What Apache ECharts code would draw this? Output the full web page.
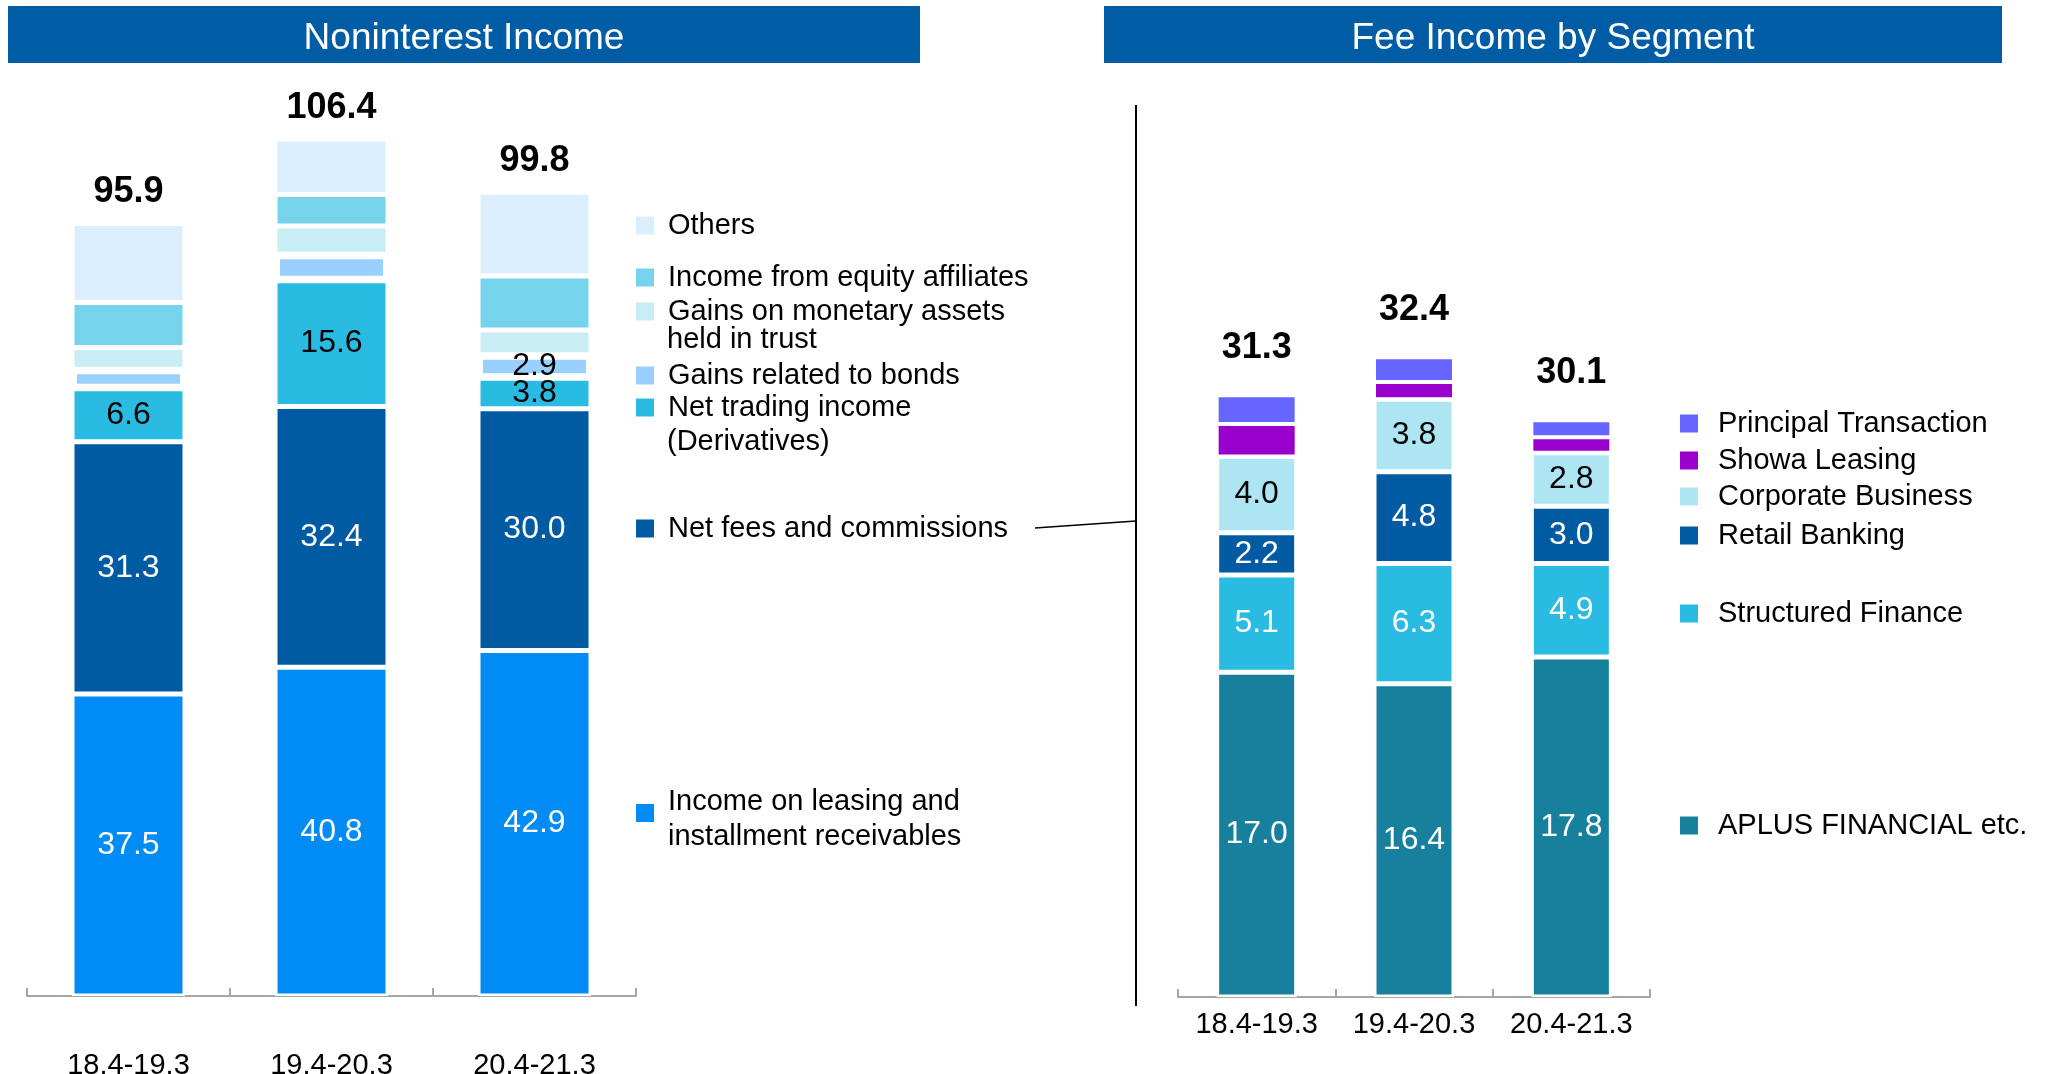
<!DOCTYPE html>
<html>
<head>
<meta charset="utf-8">
<title>Noninterest Income / Fee Income by Segment</title>
<script src="https://cdn.jsdelivr.net/npm/echarts@6/dist/echarts.min.js"></script>
<style>
  html, body { margin: 0; padding: 0; background: #fff; }
  #chart { width: 2052px; height: 1074px; }
</style>
</head>
<body>
<div id="chart"></div>
<script>
const categories = ['18.4-19.3', '19.4-20.3', '20.4-21.3'];

// Noninterest Income (bottom to top)
const leasing = [37.5, 40.8, 42.9];
const fees = [31.3, 32.4, 30.0];
const trading = [6.6, 15.6, 3.8];
const bonds = [2.4, 3.3, 2.9];
const monetary = [2.7, 3.5, 3.1];
const equity = [5.6, 3.9, 6.7];
const others = [9.8, 6.9, 10.4];
const nonintTotal = [95.9, 106.4, 99.8];
const bondsLabelShown = [false, false, true];

// Fee Income by Segment (bottom to top)
const aplus = [17.0, 16.4, 17.8];
const structured = [5.1, 6.3, 4.9];
const retail = [2.2, 4.8, 3.0];
const corporate = [4.0, 3.8, 2.8];
const showa = [1.7, 0.9, 0.8];
const principal = [1.5, 1.3, 0.9];
const feeTotal = [31.3, 32.4, 30.1];

const FONT = '"Liberation Sans", Arial, sans-serif';
const LEASING = 'Income on leasing and installment receivables';

const chart = echarts.init(document.getElementById('chart'));

function bar(name, data, color, axis, opts) {
  opts = opts || {};
  const labelShown = opts.labelShown || data.map(() => !!opts.labelColor);
  return {
    name: name,
    type: 'bar',
    stack: axis === 0 ? 'left' : 'right',
    xAxisIndex: axis,
    yAxisIndex: axis,
    barWidth: axis === 0 ? 113 : 80,
    itemStyle: {
      color: color,
      borderColor: '#fff',
      borderWidth: opts.borderWidth || 2.5
    },
    label: {
      show: true,
      position: 'inside',
      color: opts.labelColor || '#000',
      fontFamily: FONT,
      fontSize: 32,
      formatter: p => p.value.toFixed(1)
    },
    data: data.map((v, i) => ({
      value: v,
      label: { show: labelShown[i] }
    }))
  };
}

// topmost segment carries the bold total above the bar
function withTotal(series, totals, distance) {
  series.data = series.data.map(d => ({ value: d.value }));
  series.label = {
    show: true,
    position: 'top',
    distance: distance,
    color: '#000',
    fontFamily: FONT,
    fontSize: 36,
    fontWeight: 'bold',
    formatter: p => totals[p.dataIndex].toFixed(1)
  };
  return series;
}

function legend(name, left, top, gap) {
  return {
    data: [name],
    left: left,
    top: top,
    padding: 0,
    itemWidth: 20,
    itemHeight: 20,
    icon: 'rect',
    selectedMode: false,
    textStyle: {
      fontFamily: FONT,
      fontSize: 29,
      color: '#000',
      lineHeight: 20,
      padding: [0, 0, 0, gap]
    }
  };
}

function axis(grid, margin) {
  return {
    type: 'category',
    gridIndex: grid,
    data: categories,
    axisLine: { lineStyle: { color: '#a6a6a6', width: 2 } },
    axisTick: { show: true, inside: true, length: 8, lineStyle: { color: '#a6a6a6', width: 2 } },
    axisLabel: { interval: 0, fontFamily: FONT, fontSize: 29, color: '#000', margin: margin }
  };
}

// two-line legend entry: icon sits between the lines, closer to the first
const leasingLegend = legend(LEASING, 634, 778, 8);
leasingLegend.formatter = () => '{a|Income on leasing and}\n{b|installment receivables}';
leasingLegend.textStyle.rich = {
  a: { fontFamily: FONT, fontSize: 29, color: '#000', lineHeight: 48 },
  b: { fontFamily: FONT, fontSize: 29, color: '#000', lineHeight: 22 }
};

const option = {
  animation: false,
  grid: [
    { left: 27, width: 609, top: 110, bottom: 78, outerBoundsMode: 'none' },
    { left: 1178, width: 472, top: 233, bottom: 77, outerBoundsMode: 'none' }
  ],
  xAxis: [axis(0, 55), axis(1, 13)],
  yAxis: [
    { type: 'value', gridIndex: 0, min: 0, max: 110, show: false },
    { type: 'value', gridIndex: 1, min: 0, max: 40, show: false }
  ],
  legend: [
    legend('Others', 634, 211, 8),
    legend('Income from equity affiliates', 634, 263, 8),
    legend('Gains on monetary assets', 634, 297, 8),
    legend('Gains related to bonds', 634, 361, 8),
    legend('Net trading income', 634, 393, 8),
    legend('Net fees and commissions', 634, 514, 8),
    leasingLegend,
    legend('Principal Transaction', 1678, 409, 14),
    legend('Showa Leasing', 1678, 446, 14),
    legend('Corporate Business', 1678, 482, 14),
    legend('Retail Banking', 1678, 521, 14),
    legend('Structured Finance', 1678, 599, 14),
    legend('APLUS FINANCIAL etc.', 1678, 811, 14)
  ],
  graphic: [
    { type: 'rect', shape: { x: 8, y: 6, width: 912, height: 57 }, style: { fill: '#005ca5' } },
    { type: 'text', x: 464, y: 39, style: { text: 'Noninterest Income', fill: '#fff', font: '37px ' + FONT, align: 'center', verticalAlign: 'middle' } },
    { type: 'rect', shape: { x: 1104, y: 6, width: 898, height: 57 }, style: { fill: '#005ca5' } },
    { type: 'text', x: 1553, y: 39, style: { text: 'Fee Income by Segment', fill: '#fff', font: '37px ' + FONT, align: 'center', verticalAlign: 'middle' } },
    // second lines of the wrapped legend labels
    { type: 'text', x: 667, y: 340, style: { text: 'held in trust', fill: '#000', font: '29px ' + FONT, verticalAlign: 'middle' } },
    { type: 'text', x: 667, y: 442, style: { text: '(Derivatives)', fill: '#000', font: '29px ' + FONT, verticalAlign: 'middle' } },
    // connector from "Net fees and commissions" to the right panel
    { type: 'line', shape: { x1: 1035, y1: 528, x2: 1136, y2: 521 }, style: { stroke: '#000', lineWidth: 1.5 } },
    { type: 'line', shape: { x1: 1136, y1: 105, x2: 1136, y2: 1006 }, style: { stroke: '#000', lineWidth: 2 } }
  ],
  series: [
    bar(LEASING, leasing, '#008cf4', 0, { labelColor: '#fff' }),
    bar('Net fees and commissions', fees, '#005ba2', 0, { labelColor: '#fff' }),
    bar('Net trading income', trading, '#2abbe3', 0, { labelColor: '#000' }),
    bar('Gains related to bonds', bonds, '#99d0ff', 0, { labelColor: '#000', labelShown: bondsLabelShown, borderWidth: 5 }),
    bar('Gains on monetary assets', monetary, '#c9edf5', 0),
    bar('Income from equity affiliates', equity, '#75d4ec', 0),
    withTotal(bar('Others', others, '#daeefd', 0), nonintTotal, 13),

    bar('APLUS FINANCIAL etc.', aplus, '#16809d', 1, { labelColor: '#fff' }),
    bar('Structured Finance', structured, '#2abbe3', 1, { labelColor: '#fff' }),
    bar('Retail Banking', retail, '#005ba2', 1, { labelColor: '#fff' }),
    bar('Corporate Business', corporate, '#aee5f3', 1, { labelColor: '#000' }),
    bar('Showa Leasing', showa, '#9900cc', 1, { borderWidth: 2 }),
    withTotal(bar('Principal Transaction', principal, '#6666ff', 1, { borderWidth: 2 }), feeTotal, 29)
  ]
};

chart.setOption(option);
window.addEventListener('resize', () => chart.resize());
</script>
</body>
</html>
